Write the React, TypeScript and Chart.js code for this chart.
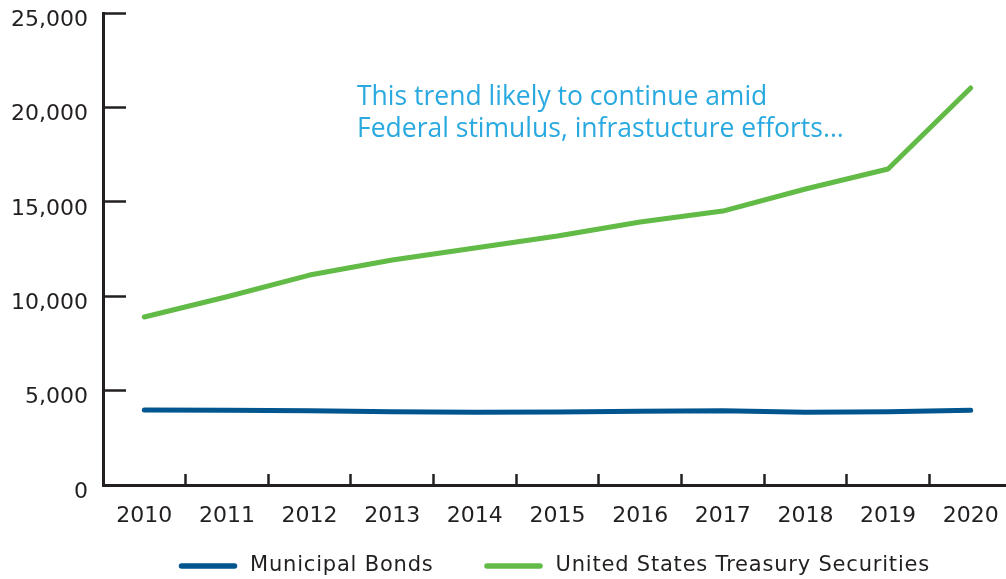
import React, { useEffect, useRef } from "react";
import { Chart, registerables } from "chart.js";

Chart.register(...registerables);

const years = ["2010", "2011", "2012", "2013", "2014", "2015", "2016", "2017", "2018", "2019", "2020"];
const municipalBonds = [3970, 3955, 3935, 3880, 3850, 3865, 3900, 3935, 3850, 3880, 3955];
const treasurySecurities = [8900, 9970, 11120, 11920, 12550, 13190, 13930, 14510, 15680, 16740, 21030];
const seriesNames = ["Municipal Bonds", "United States Treasury Securities"];
const yMin = 0;
const yMax = 25000;
const yStep = 5000;
const annotationLines = ["This trend likely to continue amid", "Federal stimulus, infrastucture efforts..."];

const INK = "#231f20";
const BLUE = "#02568f";
const GREEN = "#62bb46";
const NOTE = "#29a9e0";

const annotationPlugin = {
  id: "noteText",
  afterDraw(chart: any) {
    const { ctx, chartArea } = chart;
    ctx.save();
    ctx.fillStyle = NOTE;
    ctx.font = "26.5px 'Open Sans'";
    ctx.textAlign = "left";
    ctx.textBaseline = "alphabetic";
    annotationLines.forEach((line, i) => {
      ctx.fillText(line, chartArea.left + 254, chartArea.top + 92 + i * 32);
    });
    ctx.restore();
  },
};

const legendPlugin = {
  id: "bottomLegend",
  afterDraw(chart: any) {
    const { ctx, chartArea } = chart;
    const sample = 58;
    const gapText = 13;
    const gapItem = 51;
    const cy = 566;
    ctx.save();
    ctx.font = "21px 'DejaVu Sans'";
    (ctx as any).letterSpacing = "0.8px";
    ctx.textBaseline = "middle";
    ctx.textAlign = "left";
    const items = chart.data.datasets.map((ds: any) => ({
      text: ds.label as string,
      color: ds.borderColor as string,
      w: ctx.measureText(ds.label).width,
    }));
    const total = items.reduce((acc: number, it: any, i: number) => acc + sample + gapText + it.w + (i > 0 ? gapItem : 0), 0);
    let x = (chartArea.left + chartArea.right) / 2 - 3 - total / 2;
    items.forEach((it: any) => {
      ctx.strokeStyle = it.color;
      ctx.lineWidth = 5.5;
      ctx.lineCap = "round";
      ctx.beginPath();
      ctx.moveTo(x + 2.5, cy);
      ctx.lineTo(x + sample - 2.5, cy);
      ctx.stroke();
      ctx.fillStyle = INK;
      ctx.fillText(it.text, x + sample + gapText, cy);
      x += sample + gapText + it.w + gapItem;
    });
    ctx.restore();
  },
};

export default function App() {
  const canvasRef = useRef<HTMLCanvasElement | null>(null);

  useEffect(() => {
    const canvas = canvasRef.current;
    if (!canvas) return;
    const chart = new Chart(canvas, {
      type: "line",
      data: {
        labels: years,
        datasets: [
          {
            label: seriesNames[0],
            data: municipalBonds,
            borderColor: BLUE,
            backgroundColor: BLUE,
            borderWidth: 5,
            borderCapStyle: "round",
            borderJoinStyle: "round",
            pointRadius: 0,
            tension: 0,
          },
          {
            label: seriesNames[1],
            data: treasurySecurities,
            borderColor: GREEN,
            backgroundColor: GREEN,
            borderWidth: 5,
            borderCapStyle: "round",
            borderJoinStyle: "round",
            pointRadius: 0,
            tension: 0,
          },
        ],
      },
      options: {
        animation: false,
        responsive: false,
        devicePixelRatio: 1,
        layout: { padding: { top: 13, left: 0, right: 0, bottom: 0 } },
        plugins: {
          tooltip: { enabled: false },
          legend: { display: false },
        },
        scales: {
          x: {
            type: "category",
            offset: true,
            afterFit: (s: any) => {
              s.height = 94;
              s.paddingLeft = 0;
              s.paddingRight = 0;
            },
            border: { display: true, color: INK, width: 3 },
            grid: {
              display: true,
              offset: true,
              drawOnChartArea: false,
              drawTicks: true,
              tickLength: -11,
              tickWidth: 2.5,
              tickColor: INK,
              color: INK,
            },
            ticks: {
              color: INK,
              font: { family: "'DejaVu Sans'", size: 22 },
              padding: 29,
              maxRotation: 0,
              autoSkip: false,
            },
          },
          y: {
            min: yMin,
            max: yMax,
            afterFit: (s: any) => {
              s.width = 103;
              s.paddingTop = 0;
              s.paddingBottom = 0;
            },
            border: { display: true, color: INK, width: 3 },
            grid: {
              display: true,
              drawOnChartArea: false,
              drawTicks: true,
              tickLength: -23,
              tickWidth: 2.5,
              tickColor: INK,
              color: INK,
            },
            ticks: {
              stepSize: yStep,
              color: INK,
              font: { family: "'DejaVu Sans'", size: 22, lineHeight: 1 },
              padding: 38,
              labelOffset: 7,
              callback: (v: any) => Number(v).toLocaleString("en-US"),
            },
          },
        },
      },
      plugins: [annotationPlugin, legendPlugin],
    } as any);
    return () => chart.destroy();
  }, []);

  return (
    <div style={{ position: "absolute", left: 0, top: 0, width: 1006, height: 579, overflow: "hidden", background: "#ffffff" }}>
      <canvas ref={canvasRef} width={1012} height={579} style={{ display: "block" }} />
    </div>
  );
}
